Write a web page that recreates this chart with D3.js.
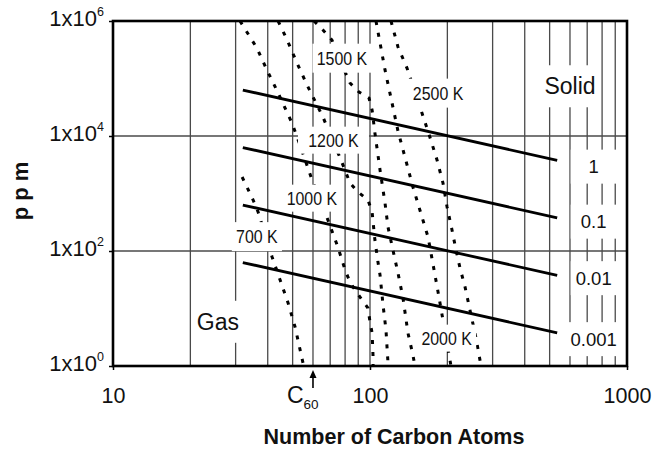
<!DOCTYPE html>
<html><head><meta charset="utf-8">
<script src="https://cdn.jsdelivr.net/npm/d3@7"></script>
<style>body{margin:0;background:#fff}svg{display:block}text{font-family:"Liberation Sans",Arial,Helvetica,sans-serif;fill:#111}</style>
</head><body><svg id="c" width="657" height="450"></svg>
<script>
// ---------- data ----------
const xTickValues = [10, 100, 1000];
const yTickValues = [1, 100, 1e4, 1e6];
const yTickExponents = ["0", "2", "4", "6"];
const xGridValues = [20, 30, 40, 50, 60, 70, 80, 90, 200, 300, 400, 500, 600, 700, 800, 900];
const yGridValues = [100, 1e4];

// solid lines (labelled 1, 0.1, 0.01, 0.001)
const solidN = [32, 535];
const solidPpm1 = [6.3e4, 3770];
const solidPpm01 = [6.3e3, 377];
const solidPpm001 = [630, 37.7];
const solidPpm0001 = [63, 3.77];
const solidLabels = ["1", "0.1", "0.01", "0.001"];
const solidLabelPpm = [2950, 326, 33.9, 2.95];
const solidLabelN = 742;

// dotted isotherms
const n700 = [31.8, 35.1, 36.7, 41.6, 44.7, 48.0, 51.1, 55.2];
const ppm700 = [1936, 771, 476, 78.7, 31.3, 12.5, 4.77, 1.0];
const n1000 = [31.2, 36.3, 39.7, 43.9, 49.7, 53.4, 59.5, 66.8, 75.0, 80.0, 83.6, 87.4, 93.1, 98.2, 100, 101.9, 102.8, 102.8];
const ppm1000 = [1e6, 3.39e5, 1.41e5, 5.6e4, 1.68e4, 6970, 1718, 476, 117, 46.8, 28.9, 21.0, 14.1, 10.2, 5.82, 3.75, 1.43, 1];
const n1200 = [43.9, 47.6, 52.0, 56.9, 62.2, 65.6, 77.1, 83.6, 89.8, 98.2, 101.9, 104.5, 107.4, 109.4, 112.4, 115.4, 117.5, 118];
const ppm1200 = [1e6, 4.68e5, 1.86e5, 7.7e4, 3.46e4, 2.14e4, 3828, 1523, 1062, 771, 476, 155, 64.4, 38.3, 11.5, 4.23, 1.13, 1];
const n1500 = [60.6, 65.6, 71.1, 75.0, 80.0, 83.6, 90.6, 99.1, 101.9, 104.5, 109.4, 114.4, 117.5, 122.8, 128.5, 134.4, 140.5, 146.9, 149.6];
const ppm1500 = [1e6, 6.97e5, 4.68e5, 2.56e5, 1.30e5, 8.35e4, 5.82e4, 4.58e4, 2.83e4, 1.13e4, 2564, 684, 261, 104, 41.4, 15.2, 3.75, 1.55, 1];
const n2000 = [105.5, 114.4, 128.5, 146.9, 168.2, 184.0, 206.6];
const ppm2000 = [1e6, 1.41e5, 1.22e4, 1298, 175, 19.4, 1];
const n2500 = [120.7, 128.5, 139.3, 159.3, 171.0, 182.3, 192.3, 199.5, 208.5, 216.1, 224.0, 234.3, 244.9, 258.5, 270.4];
const ppm2500 = [1e6, 3.53e5, 1.52e5, 2.51e4, 9610, 3828, 1523, 582, 232, 104, 50.6, 23.7, 9.42, 3.07, 1];

const tempLabels = ["700 K", "1000 K", "1200 K", "1500 K", "2000 K", "2500 K"];
const tempLabelN = [36.3, 59.4, 72.1, 77.8, 198.7, 184];
const tempLabelPpm = [179, 835, 8520, 2.27e5, 3.07, 5.6e4];

const regionLabels = ["Gas", "Solid"];
const regionLabelN = [25.6, 600];
const regionLabelPpm = [5.94, 7.41e4];

const c60N = 60;

// ---------- layout ----------
const L = 113, R = 627, T = 21, B = 366;
const svg = d3.select("#c");
const x = d3.scaleLog().domain([10, 1000]).range([L, R]);
const y = d3.scaleLog().domain([1, 1e6]).range([B, T]);

// grid
const grid = svg.append("g").attr("stroke", "#4a4a4a").attr("stroke-width", 1.3);
grid.selectAll("line.vx").data(xGridValues.concat([100])).join("line")
  .attr("x1", d => x(d)).attr("x2", d => x(d)).attr("y1", T).attr("y2", B);
grid.selectAll("line.hy").data(yGridValues).join("line")
  .attr("x1", L).attr("x2", R).attr("y1", d => y(d)).attr("y2", d => y(d));

// clip
svg.append("clipPath").attr("id", "pc").append("rect")
  .attr("x", L).attr("y", T).attr("width", R - L).attr("height", B - T);

const line = d3.line().x(d => x(d[0])).y(d => y(d[1]));
const plot = svg.append("g").attr("clip-path", "url(#pc)");

const isotherms = [[n700, ppm700], [n1000, ppm1000], [n1200, ppm1200], [n1500, ppm1500], [n2000, ppm2000], [n2500, ppm2500]];
plot.selectAll("path.iso").data(isotherms).join("path")
  .attr("class", "iso")
  .attr("d", s => line(s[0].map((n, i) => [n, s[1][i]])))
  .attr("fill", "none").attr("stroke", "#000").attr("stroke-width", 3)
  .attr("stroke-dasharray", "4,8");

const solids = [solidPpm1, solidPpm01, solidPpm001, solidPpm0001];
plot.selectAll("path.sol").data(solids).join("path")
  .attr("class", "sol")
  .attr("d", s => line(solidN.map((n, i) => [n, s[i]])))
  .attr("fill", "none").attr("stroke", "#000").attr("stroke-width", 2.8);

// labels with white boxes
function boxedLabel(g, text, px, py, size, padX, padY, minW, squeeze) {
  const t = g.append("text").attr("x", px).attr("y", py).attr("dy", "0.36em")
    .attr("text-anchor", "middle").style("font-size", size + "px").text(text);
  if (squeeze) {
    const w0 = t.node().getComputedTextLength();
    t.attr("textLength", w0 * squeeze).attr("lengthAdjust", "spacingAndGlyphs");
  }
  const bb = t.node().getBBox();
  const w = Math.max(bb.width + 2 * padX, minW || 0);
  g.insert("rect", "text").attr("x", px - w / 2).attr("y", bb.y - padY)
    .attr("width", w).attr("height", bb.height + 2 * padY).attr("fill", "#fff");
}
const labG = svg.append("g");
const tempPad = [[4, 4], [2, 3], [10, 3], [4, 4], [4, 3], [4, 4]];
tempLabels.forEach((s, i) => {
  const g = labG.append("g");
  boxedLabel(g, s, x(tempLabelN[i]), y(tempLabelPpm[i]), 18.5, tempPad[i][0], tempPad[i][1], 0, 0.86);
});
regionLabels.forEach((s, i) => {
  const g = labG.append("g");
  boxedLabel(g, s, x(regionLabelN[i]), y(regionLabelPpm[i]), 23, 4, 8);
});
solidLabels.forEach((s, i) => {
  const g = labG.append("g");
  boxedLabel(g, s, x(solidLabelN), y(solidLabelPpm[i]), 18.5, 2, 6.5, 46);
});

// frame
svg.append("rect").attr("x", L).attr("y", T).attr("width", R - L).attr("height", B - T)
  .attr("fill", "none").attr("stroke", "#000").attr("stroke-width", 2.6);

// axes
const xAxis = d3.axisBottom(x).tickValues(xTickValues).tickSize(4).tickPadding(18)
  .tickFormat(d3.format("d"));
const gx = svg.append("g").attr("transform", `translate(0,${B})`).call(xAxis);
gx.select(".domain").remove();
gx.selectAll("line").attr("stroke", "#000").attr("stroke-width", 1.5);
gx.selectAll("text").style("font-size", "21.5px").attr("fill", "#111")
  .style("font-family", "'Liberation Sans',Arial,sans-serif");

const yAxis = d3.axisLeft(y).tickValues(yTickValues).tickSize(4).tickPadding(5).tickFormat(() => "");
const gy = svg.append("g").attr("transform", `translate(${L},0)`).call(yAxis);
gy.select(".domain").remove();
gy.selectAll("line").attr("stroke", "#000").attr("stroke-width", 1.5);
gy.selectAll("text").each(function (d, i) {
  const t = d3.select(this).attr("dy", "0.43em").attr("fill", "#111")
    .style("font-family", "'Liberation Sans',Arial,sans-serif");
  t.append("tspan").style("font-size", "22px").text("1x10");
  t.append("tspan").style("font-size", "12.5px").attr("dy", "-10").text(yTickExponents[i]);
});

// C60 marker
const cx = x(c60N);
svg.append("line").attr("x1", cx).attr("x2", cx).attr("y1", B + 22).attr("y2", B + 10)
  .attr("stroke", "#000").attr("stroke-width", 1.6);
svg.append("path").attr("d", `M${cx},${B + 4}L${cx - 3.5},${B + 12}L${cx + 3.5},${B + 12}Z`).attr("fill", "#000");
const ct = svg.append("text").attr("x", cx - 26).attr("y", B + 37).style("font-size", "23px");
ct.append("tspan").text("C");
ct.append("tspan").attr("dy", 6).style("font-size", "13.5px").text("60");

// axis titles
svg.append("text").attr("x", 394).attr("y", 444).attr("text-anchor", "middle")
  .style("font-size", "21.5px").style("font-weight", "bold").text("Number of Carbon Atoms");
svg.append("text").attr("transform", "translate(28,191) rotate(-90)").attr("text-anchor", "middle")
  .style("font-size", "22px").style("font-weight", "bold").text("p p m");
</script></body></html>
